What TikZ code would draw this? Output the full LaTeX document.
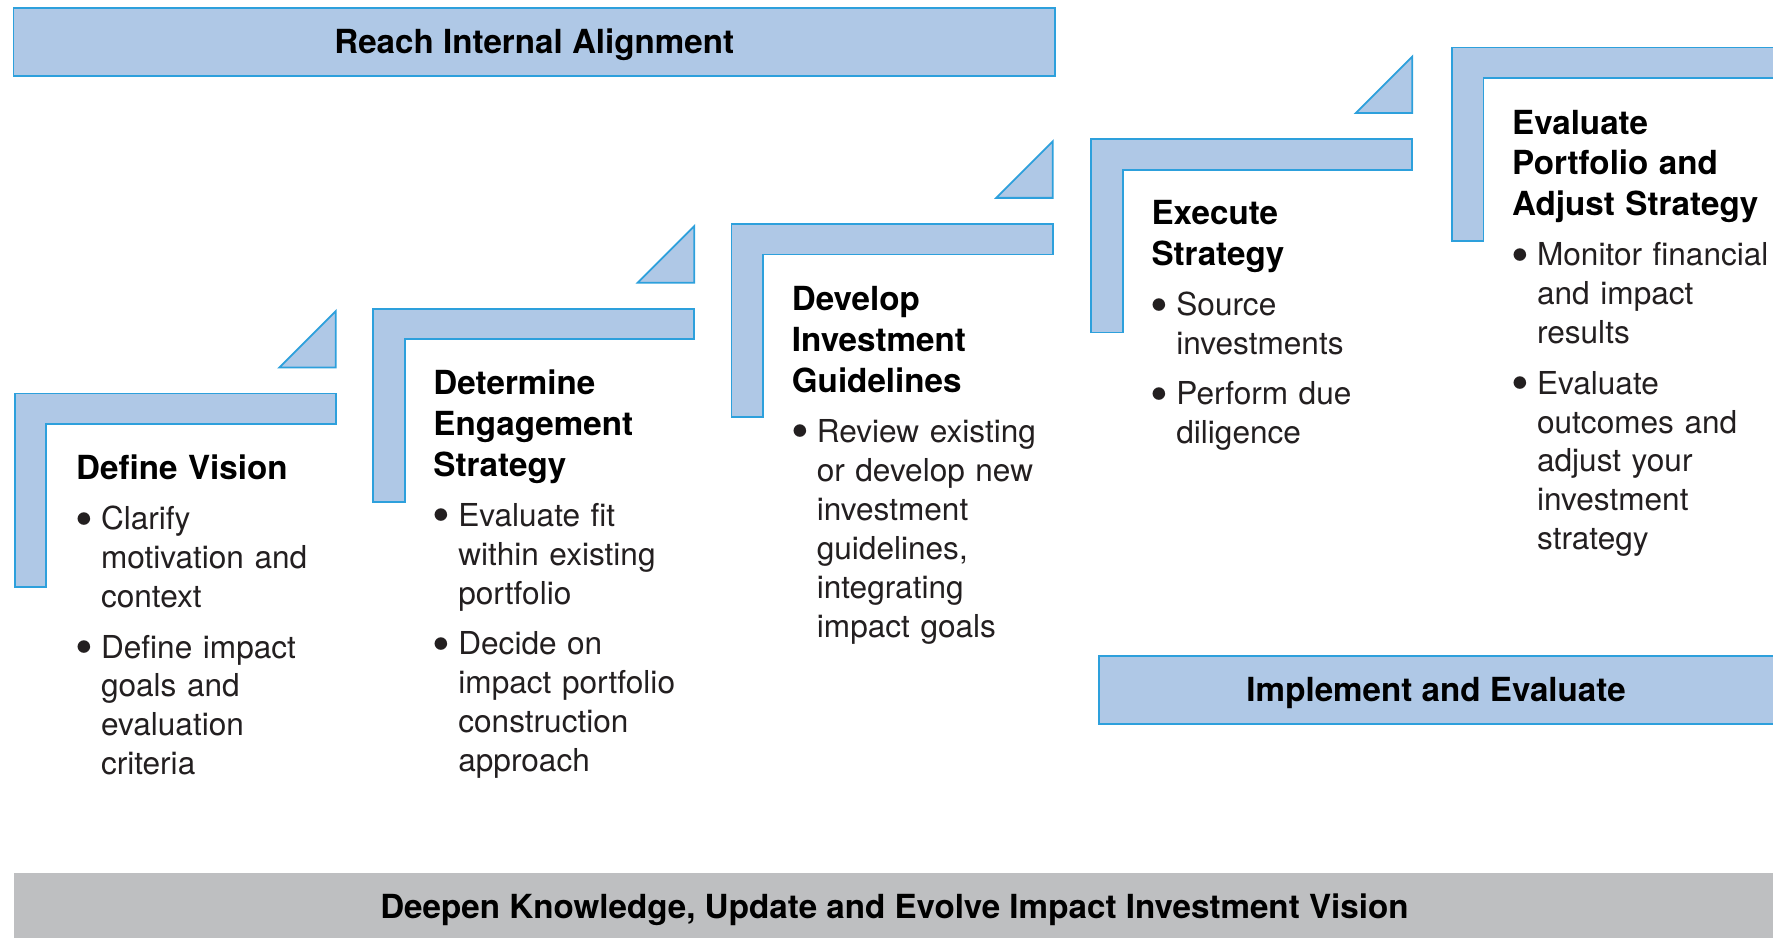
\documentclass[tikz,border=0pt]{standalone}
\usepackage{fontspec}
\setmainfont{TeX Gyre Heros}

\definecolor{stepfill}{RGB}{175,200,230}
\definecolor{stepline}{RGB}{45,160,220}
\definecolor{basegrey}{RGB}{190,191,193}
\definecolor{bodytext}{RGB}{35,31,32}

\newcommand{\headfont}{\fontsize{16.7}{20.5}\selectfont\bfseries}
\newcommand{\bodyfont}{\fontsize{15.9}{19.6}\selectfont}
\newcommand{\stephead}[1]{{\headfont\color{black}#1\par}}
\newcommand{\stepdot}{\hspace{-0.01cm}\raisebox{-0.2em}{\scalebox{1.6}{\textbullet}}}
\newenvironment{steplist}{\begin{list}{\stepdot}{%
    \setlength{\leftmargin}{0.44cm}\setlength{\labelwidth}{0.44cm}%
    \setlength{\labelsep}{0pt}\setlength{\itemsep}{0.2cm}%
    \setlength{\parsep}{0pt}\setlength{\topsep}{0.2cm}%
    \setlength{\partopsep}{0pt}\renewcommand{\makelabel}[1]{##1\hfil}}}%
  {\end{list}}

\begin{document}
\begin{tikzpicture}[x=0.02cm, y=-0.02cm,
  stepshape/.style={fill=stepfill, draw=stepline, line width=0.9pt},
  bartitle/.style={anchor=base, font=\headfont, inner sep=0pt},
  steptext/.style={anchor=north west, inner sep=0pt, text width=4.8cm, align=left, font=\bodyfont, text=bodytext}]

  % Page frame
  \useasboundingbox (0,0) rectangle (1568,829);
  \clip (0,0) rectangle (1568,829);
  \fill[white] (0,0) rectangle (1568,829);

  % --------------------
  % Long bars
  % --------------------
  \draw[stepshape] (12,7) rectangle (933,67);
  \node[bartitle] (reach) at (472.5,47) {Reach Internal Alignment};

  \draw[stepshape] (972,580) rectangle (1590,640);
  \node[bartitle] (implement) at (1270,620) {Implement and Evaluate};

  \fill[basegrey] (12,772) rectangle (1590,840);
  \node[bartitle] (deepen) at (791,812) {Deepen Knowledge, Update and Evolve Impact Investment Vision};

  % --------------------
  % Step brackets
  % --------------------
  \foreach \sx/\sy/\sw in {13/348/284, 330/273/284, 647/198/284, 965/123/284, 1284/42/320} {
    \draw[stepshape] (\sx,\sy) -- ++(\sw,0) -- ++(0,27) -- (\sx+28,\sy+27) -- (\sx+28,\sy+171) -- (\sx,\sy+171) -- cycle;
  }
  % Step-up triangles
  \foreach \tx/\ty in {297/325, 614/250, 931/175, 1249/100} {
    \draw[stepshape] (\tx-50,\ty) -- (\tx,\ty) -- (\tx,\ty-50) -- cycle;
  }

  % --------------------
  % Step texts
  % --------------------
  \node[steptext] (vision) at (67,402) {\stephead{Define Vision}
    \begin{steplist}
      \item Clarify\\motivation and\\context
      \item Define impact\\goals and\\evaluation\\criteria
    \end{steplist}};

  \node[steptext] (engage) at (383,327) {\stephead{Determine\\Engagement\\Strategy}
    \begin{steplist}
      \item Evaluate fit\\within existing\\portfolio
      \item Decide on\\impact portfolio\\construction\\approach
    \end{steplist}};

  \node[steptext] (guide) at (700,253) {\stephead{Develop\\Investment\\Guidelines}
    \begin{steplist}
      \item Review existing\\or develop new\\investment\\guidelines,\\integrating\\impact goals
    \end{steplist}};

  \node[steptext] (execute) at (1018,177) {\stephead{Execute\\Strategy}
    \begin{steplist}
      \item Source\\investments
      \item Perform due\\diligence
    \end{steplist}};

  \node[steptext] (evaluate) at (1337,97) {\stephead{Evaluate\\Portfolio and\\Adjust Strategy}
    \begin{steplist}
      \item Monitor financial\\and impact\\results
      \item Evaluate\\outcomes and\\adjust your\\investment\\strategy
    \end{steplist}};

\end{tikzpicture}
\end{document}
